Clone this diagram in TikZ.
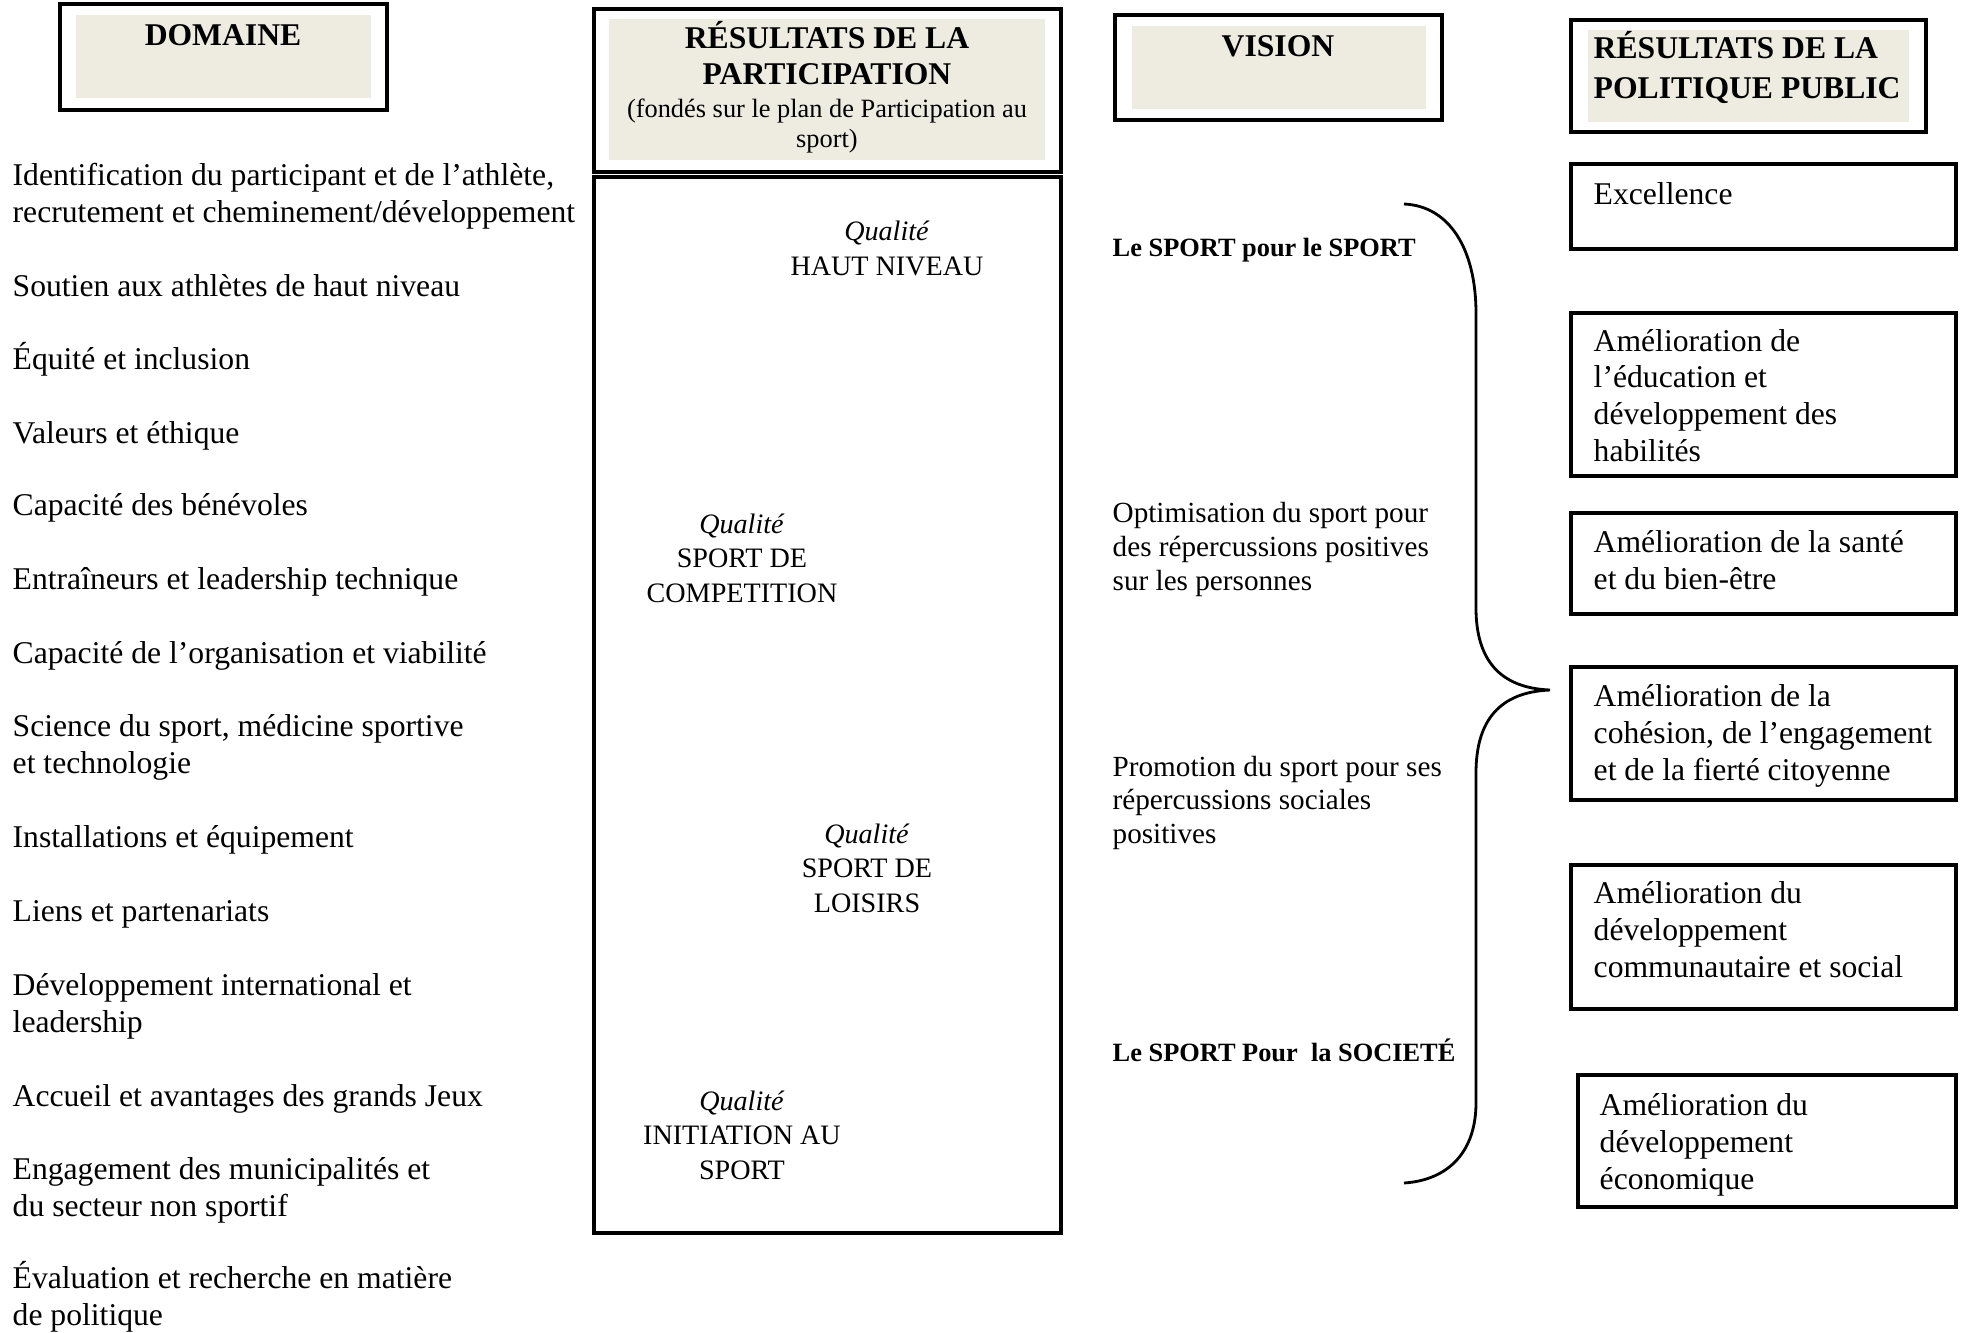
\documentclass[tikz,border=0pt]{standalone}
\usepackage{fontspec}
\setmainfont{Liberation Serif}
\usepackage{tikz}
\usetikzlibrary{positioning}

\definecolor{headfill}{HTML}{EEECE1}

% multi-line nodes sit on the baseline of their last line
\tikzset{
  frame/.style={draw=black, line width=0.9pt},
  shade/.style={fill=headfill},
  headtxt/.style={inner sep=0pt, anchor=base, align=center, font=\bfseries\fontsize{9}{10}\selectfont},
  item/.style={inner sep=0pt, anchor=base west, align=left, font=\fontsize{9}{10.3}\selectfont},
  level/.style={inner sep=0pt, anchor=base, align=center, font=\fontsize{8}{9.7}\selectfont},
  vis/.style={inner sep=0pt, anchor=base west, align=left, font=\fontsize{8.3}{9.6}\selectfont},
  visbold/.style={inner sep=0pt, anchor=base west, font=\bfseries\fontsize{7.5}{9}\selectfont},
  result/.style={inner sep=0pt, anchor=base west, align=left, font=\fontsize{9}{10.4}\selectfont},
}

\begin{document}
\begin{tikzpicture}[x=0.01cm, y=-0.01cm]
  \useasboundingbox (0,0) rectangle (1965,1332);

  % column headers
  \draw[frame] (60,4) rectangle (387,110);
  \fill[shade] (76,15) rectangle (371,98);
  \node[headtxt] (domaine) at (223,45) {DOMAINE};

  \draw[frame] (594,9) rectangle (1061,172);
  \fill[shade] (609,19) rectangle (1045,160);
  \node[headtxt] (partic) at (827,84) {RÉSULTATS DE LA\\PARTICIPATION};
  \node[level, font=\fontsize{7.5}{8.5}\selectfont] (plan) at (827,147) {(fondés sur le plan de Participation au\\sport)};

  \draw[frame] (1115,15) rectangle (1442,120);
  \fill[shade] (1132,26) rectangle (1426,109);
  \node[headtxt] (vision) at (1278,56) {VISION};

  \draw[frame] (1571,20) rectangle (1926,132);
  \fill[shade] (1588,30) rectangle (1909,122);
  \node[headtxt, anchor=base west, align=left, font=\bfseries\fontsize{9}{11.1}\selectfont] (politique) at (1593,98) {RÉSULTATS DE LA\\POLITIQUE PUBLIC};

  % domaines
  \node[item] (d1) at (12,222) {Identification du participant et de l’athlète,\\recrutement et cheminement/développement};
  \node[item] (d2) at (12,296) {Soutien aux athlètes de haut niveau};
  \node[item] (d3) at (12,369) {Équité et inclusion};
  \node[item] (d4) at (12,443) {Valeurs et éthique};
  \node[item] (d5) at (12,515) {Capacité des bénévoles};
  \node[item] (d6) at (12,589) {Entraîneurs et leadership technique};
  \node[item] (d7) at (12,663) {Capacité de l’organisation et viabilité};
  \node[item] (d8) at (12,773) {Science du sport, médicine sportive\\et technologie};
  \node[item] (d9) at (12,847) {Installations et équipement};
  \node[item] (d10) at (12,921) {Liens et partenariats};
  \node[item] (d11) at (12,1032) {Développement international et\\leadership};
  \node[item] (d12) at (12,1106) {Accueil et avantages des grands Jeux};
  \node[item] (d13) at (12,1216) {Engagement des municipalités et\\du secteur non sportif};
  \node[item] (d14) at (12,1325) {Évaluation et recherche en matière\\de politique};

  % niveaux de participation
  \draw[frame] (594,177) rectangle (1061,1233);
  \node[level] (haut) at (887,275) {\textit{Qualité}\\HAUT NIVEAU};
  \node[level] (compet) at (742,602) {\textit{Qualité}\\SPORT DE\\COMPETITION};
  \node[level] (loisirs) at (867,912) {\textit{Qualité}\\SPORT DE\\LOISIRS};
  \node[level] (initiation) at (742,1179) {\textit{Qualité}\\INITIATION AU\\SPORT};

  % vision
  \node[visbold] (pourSport) at (1112,256) {Le SPORT pour le SPORT};
  \node[vis] (optim) at (1112,590) {Optimisation du sport pour\\des répercussions positives\\sur les personnes};
  \node[vis, font=\fontsize{8.3}{9.4}\selectfont] (promo) at (1112,843) {Promotion du sport pour ses\\répercussions sociales\\positives};
  \node[visbold] (pourSociete) at (1112,1061) {Le SPORT Pour\ \ la SOCIETÉ};

  % accolade
  \coordinate (btop) at (1404,204);
  \coordinate (bmid) at (1550,690);
  \coordinate (bbot) at (1404,1183);
  \draw[line width=0.8pt] (btop) .. controls (1450,206) and (1476,250) .. (1476,313) -- (1476,608)
    .. controls (1476,660) and (1500,688) .. (bmid)
    .. controls (1500,692) and (1476,720) .. (1476,773) -- (1476,1103)
    .. controls (1476,1150) and (1450,1180) .. (bbot);

  % resultats de la politique
  \draw[frame] (1571,164) rectangle (1956,249);
  \node[result] (excel) at (1593,204) {Excellence};
  \draw[frame] (1571,313) rectangle (1956,476);
  \node[result] (educ) at (1593,461) {Amélioration de\\l’éducation et\\développement des\\habilités};
  \draw[frame] (1571,513) rectangle (1956,614);
  \node[result] (sante) at (1593,589) {Amélioration de la santé\\et du bien-être};
  \draw[frame] (1571,667) rectangle (1956,800);
  \node[result] (cohesion) at (1593,780) {Amélioration de la\\cohésion, de l’engagement\\et de la fierté citoyenne};
  \draw[frame] (1571,865) rectangle (1956,1009);
  \node[result] (commun) at (1593,977) {Amélioration du\\développement\\communautaire et social};
  \draw[frame] (1578,1075) rectangle (1956,1207);
  \node[result] (econ) at (1599,1189) {Amélioration du\\développement\\économique};
\end{tikzpicture}
\end{document}
